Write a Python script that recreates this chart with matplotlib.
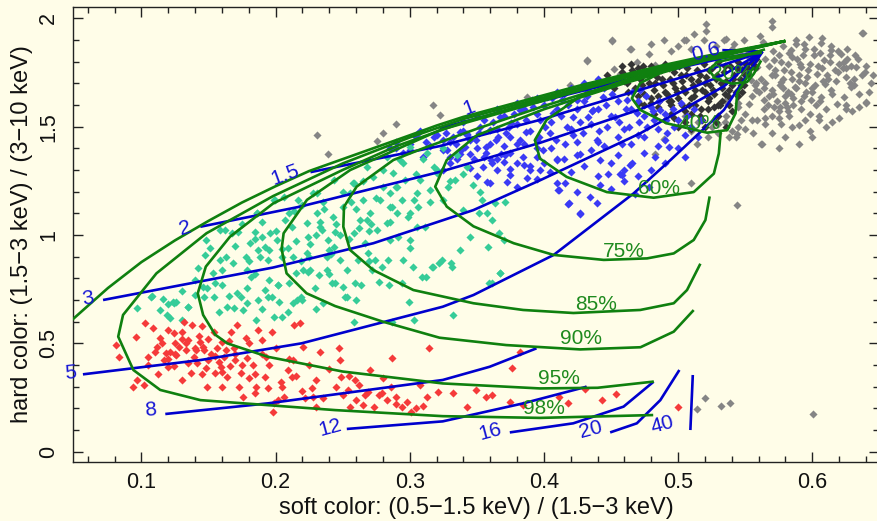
import matplotlib
matplotlib.use("Agg")
import matplotlib.pyplot as plt
from matplotlib.ticker import MultipleLocator

plt.rcParams['font.family'] = ['Liberation Sans', 'DejaVu Sans']

BG = "#FFFDE8"
LINE_BLUE = "#0000CD"
TEXT_BLUE = "#1515D5"
LINE_GREEN = "#0F800F"
TEXT_GREEN = "#1E8A1E"

# ---- scattered sources (soft color, hard color) ----
red_x = [0.081, 0.0835, 0.096, 0.103, 0.109, 0.0965, 0.094, 0.102, 0.105, 0.1115, 0.114, 0.1165, 0.120, 0.1215,
         0.124, 0.125, 0.128, 0.130, 0.1315, 0.1335, 0.135, 0.138, 0.139, 0.1415, 0.144, 0.1465, 0.148, 0.149,
         0.150, 0.154, 0.1565, 0.159, 0.160, 0.1615, 0.164, 0.1665, 0.169, 0.170, 0.1715, 0.173, 0.174, 0.1755,
         0.178, 0.179, 0.180, 0.183, 0.1855, 0.187, 0.190, 0.192, 0.193, 0.194, 0.197, 0.198, 0.199, 0.2015,
         0.204, 0.2065, 0.209, 0.212, 0.213, 0.214, 0.218, 0.2205, 0.222, 0.227, 0.228, 0.2305, 0.233, 0.247,
         0.248, 0.249, 0.254, 0.2555, 0.259, 0.262, 0.2655, 0.267, 0.269, 0.2705, 0.273, 0.277, 0.2795, 0.283,
         0.286, 0.287, 0.2895, 0.2945, 0.298, 0.301, 0.3045, 0.308, 0.313, 0.3145, 0.321, 0.332, 0.343, 0.3495,
         0.357, 0.361, 0.3745, 0.382, 0.376, 0.3845, 0.411, 0.418, 0.431, 0.443, 0.454, 0.500,
         0.118, 0.126, 0.133, 0.141, 0.152, 0.158, 0.166, 0.124, 0.137, 0.146, 0.155, 0.112, 0.143, 0.163]
red_y = [0.492, 0.435, 0.528, 0.592, 0.569, 0.331, 0.300, 0.308, 0.438, 0.482, 0.523, 0.423, 0.429, 0.462,
         0.546, 0.500, 0.482, 0.554, 0.600, 0.469, 0.515, 0.585, 0.438, 0.408, 0.508, 0.469, 0.385, 0.300,
         0.423, 0.554, 0.477, 0.392, 0.508, 0.438, 0.346, 0.554, 0.477, 0.423, 0.585, 0.300, 0.362, 0.254,
         0.523, 0.431, 0.338, 0.400, 0.300, 0.562, 0.515, 0.346, 0.438, 0.292, 0.554, 0.185, 0.223, 0.238,
         0.323, 0.254, 0.377, 0.346, 0.423, 0.585, 0.592, 0.485, 0.246, 0.292, 0.254, 0.208, 0.462, 0.477,
         0.423, 0.346, 0.285, 0.208, 0.331, 0.308, 0.215, 0.262, 0.277, 0.377, 0.208, 0.262, 0.269, 0.238,
         0.300, 0.431, 0.254, 0.208, 0.231, 0.185, 0.200, 0.308, 0.254, 0.477, 0.277, 0.269, 0.208, 0.285,
         0.254, 0.262, 0.231, 0.462, 0.385, 0.215, 0.254, 0.226, 0.288, 0.238, 0.265, 0.208,
         0.455, 0.445, 0.500, 0.470, 0.450, 0.415, 0.395, 0.395, 0.365, 0.485, 0.365, 0.360, 0.535, 0.470]
red_more = [(0.105, 0.40), (0.11, 0.46), (0.115, 0.50), (0.12, 0.39), (0.125, 0.45), (0.13, 0.52),
            (0.135, 0.41), (0.14, 0.48), (0.145, 0.36), (0.15, 0.52), (0.155, 0.44), (0.16, 0.37),
            (0.165, 0.51), (0.17, 0.45), (0.175, 0.40), (0.18, 0.50), (0.185, 0.36), (0.19, 0.45),
            (0.195, 0.40), (0.2, 0.48), (0.205, 0.30), (0.21, 0.43), (0.215, 0.35), (0.22, 0.28),
            (0.225, 0.40), (0.23, 0.33), (0.235, 0.25), (0.24, 0.38), (0.245, 0.30), (0.25, 0.26),
            (0.13, 0.33), (0.12, 0.56), (0.145, 0.58), (0.16, 0.30), (0.185, 0.27), (0.26, 0.24),
            (0.28, 0.34), (0.29, 0.22), (0.31, 0.21), (0.255, 0.35)]

teal_x = [0.0965, 0.108, 0.116, 0.114, 0.119, 0.1215, 0.124, 0.126, 0.130, 0.135, 0.140, 0.1465, 0.149, 0.154,
          0.158, 0.160, 0.164, 0.169, 0.1715, 0.1755, 0.179, 0.182, 0.1855, 0.187, 0.192, 0.194, 0.195, 0.199,
          0.2015, 0.2025, 0.209, 0.213, 0.2155, 0.219, 0.224, 0.232, 0.238, 0.244, 0.2535, 0.2585, 0.2635,
          0.272, 0.277, 0.2845, 0.287, 0.2945, 0.2995, 0.303, 0.312, 0.317,
          0.1075, 0.1237, 0.1349, 0.1423, 0.146, 0.1473, 0.1485, 0.151, 0.1535, 0.1585, 0.1622, 0.1634,
          0.1672, 0.1684, 0.1722, 0.1746, 0.1784, 0.1784, 0.1809, 0.1846, 0.1858, 0.1871, 0.1884, 0.1896,
          0.1921, 0.1946, 0.1958, 0.197,
          0.1995, 0.2007, 0.202, 0.207, 0.2095, 0.212, 0.2132, 0.2157, 0.217, 0.2207, 0.2231, 0.2244, 0.2257,
          0.2281, 0.2294, 0.2306, 0.2331, 0.2343, 0.2356, 0.2381, 0.2393, 0.2418, 0.2431, 0.2443, 0.2481,
          0.2505, 0.2518, 0.253, 0.2555, 0.258, 0.2593, 0.2617, 0.263, 0.2655, 0.2667, 0.2692, 0.2704, 0.2729,
          0.2742, 0.2754, 0.2779, 0.2791, 0.2804, 0.2828, 0.2841, 0.2853, 0.2866, 0.2878, 0.2903, 0.2915,
          0.294, 0.2953, 0.2965, 0.299, 0.3003, 0.3027, 0.3052, 0.3065, 0.3077, 0.309, 0.3115, 0.3152, 0.3164,
          0.3202, 0.3239, 0.3251, 0.3289, 0.3313, 0.3339, 0.3376, 0.34, 0.3425, 0.345,
          0.3475, 0.3525, 0.3537, 0.3575, 0.3612, 0.3513, 0.3662, 0.3587, 0.3699, 0.3675, 0.3612, 0.3712,
          0.3637, 0.331, 0.322, 0.367, 0.359, 0.332,
          0.1587, 0.1861, 0.1985, 0.206, 0.2309, 0.2433, 0.2582, 0.2682, 0.2831, 0.2931, 0.3005, 0.313, 0.318,
          0.2906, 0.303, 0.2856, 0.2682, 0.2582, 0.2333, 0.2235, 0.2433, 0.2856, 0.3055,
          0.178, 0.205, 0.226, 0.248, 0.262, 0.236, 0.214, 0.271, 0.256, 0.219, 0.241]
teal_y = [0.662, 0.718, 0.703, 0.654, 0.631, 0.615, 0.685, 0.692, 0.608, 0.669, 0.723, 0.715, 0.754, 0.715,
          0.646, 0.769, 0.669, 0.662, 0.731, 0.654, 0.685, 0.808, 0.608, 0.700, 0.746, 0.715, 0.792, 0.623,
          0.769, 0.692, 0.646, 0.685, 0.823, 0.715, 0.831, 0.815, 0.838, 0.777, 0.715, 0.600, 0.769,
          0.838, 0.785, 0.769, 0.600, 0.777, 0.692, 0.608, 0.808, 0.854,
          0.715, 0.692, 0.669, 0.846, 0.761, 0.908, 0.977, 0.939, 0.823, 0.885, 1.023, 0.900,
          1.011, 0.869, 1.015, 0.715, 0.838, 0.754, 0.962, 1.015, 1.100, 0.931, 0.900, 0.992,
          0.946, 0.885, 1.008, 0.715,
          1.162, 0.977, 0.769, 1.069, 0.939, 1.038, 0.900, 0.700, 1.162, 0.838, 1.054, 0.992, 0.838,
          1.192, 0.754, 1.100, 1.062, 1.023, 0.685, 0.900, 0.977, 0.777, 1.085, 1.015, 0.885,
          1.131, 0.715, 0.838, 1.192, 1.238, 0.777, 0.885, 1.069, 1.162, 0.962, 0.915, 1.100, 1.269,
          0.885, 1.023, 1.162, 0.854, 1.223, 1.054, 0.885, 1.192, 1.131, 1.285, 1.100, 0.992,
          1.162, 0.885, 1.254, 1.085, 0.977, 0.854, 1.192, 1.131, 1.254, 0.808, 1.038, 1.208, 0.854,
          1.285, 0.885, 1.162, 1.223, 0.854, 1.254, 0.931, 1.115, 1.315, 0.992,
          1.231, 1.200, 1.162, 1.100, 1.069, 1.100, 1.008, 0.946, 0.977, 0.823, 0.777, 1.154,
          1.146, 0.869, 0.869, 0.823, 0.780, 0.631,
          1.023, 1.100, 1.162, 1.177, 1.192, 1.254, 1.238, 1.315, 1.362, 1.346, 1.408, 1.377, 1.315,
          1.223, 1.162, 1.131, 1.069, 1.008, 1.038, 0.915, 0.946, 0.977, 1.038,
          0.900, 0.935, 0.960, 1.000, 1.030, 1.120, 1.110, 1.050, 1.150, 0.880, 0.910]
teal_more = [(0.17, 0.95), (0.175, 1.05), (0.18, 0.88), (0.185, 0.98), (0.19, 1.06), (0.195, 0.93),
             (0.20, 1.02), (0.205, 0.90), (0.21, 1.10), (0.215, 0.97), (0.22, 1.14), (0.225, 0.90),
             (0.23, 1.00), (0.235, 1.15), (0.24, 0.93), (0.245, 1.05), (0.25, 1.20), (0.255, 0.98),
             (0.26, 1.12), (0.265, 1.25), (0.27, 1.02), (0.275, 1.17), (0.28, 1.30), (0.285, 1.06),
             (0.29, 1.22), (0.295, 1.33), (0.30, 1.10), (0.305, 1.28), (0.31, 1.35), (0.315, 1.15),
             (0.32, 1.30), (0.325, 1.40), (0.33, 1.25), (0.335, 1.37), (0.34, 1.28), (0.16, 0.84),
             (0.155, 0.78), (0.165, 0.72), (0.14, 0.79), (0.13, 0.74), (0.12, 0.68), (0.185, 0.82),
             (0.21, 0.78), (0.24, 0.82), (0.27, 0.88), (0.30, 0.94), (0.25, 0.76), (0.22, 0.70),
             (0.19, 0.66), (0.26, 0.70), (0.205, 0.62), (0.23, 0.66)]

blue_x = [0.3247, 0.3297, 0.3347, 0.3372, 0.3409, 0.3446, 0.3496, 0.3521, 0.3546, 0.3571, 0.3596, 0.3608,
          0.3646, 0.3671, 0.3683, 0.3721, 0.3746, 0.3758, 0.3796, 0.3820, 0.3845, 0.3870, 0.3908, 0.3945,
          0.3970, 0.3995, 0.4020, 0.4045, 0.4070, 0.4095, 0.4107, 0.4132, 0.4157, 0.4170, 0.4182, 0.4219,
          0.4244, 0.4269, 0.4269, 0.4294, 0.4319, 0.4332, 0.4369, 0.4394, 0.4419, 0.4444, 0.4469, 0.4481,
          0.4519, 0.4531, 0.4569, 0.4581, 0.4618, 0.4631, 0.4656, 0.4693, 0.4718, 0.4743, 0.4768, 0.4818,
          0.4830, 0.4868, 0.4918, 0.4930, 0.4968,
          0.3052, 0.3251, 0.3276, 0.3376, 0.3425, 0.308,
          0.3612, 0.3699, 0.3749, 0.3724, 0.3849, 0.3873, 0.3973, 0.4047, 0.4109, 0.4159, 0.4184, 0.4271,
          0.4346, 0.4396, 0.4421, 0.4582, 0.4645, 0.390, 0.3575, 0.478, 0.468,
          0.285, 0.290, 0.295, 0.300, 0.305, 0.310, 0.315, 0.320, 0.325, 0.330, 0.335, 0.340, 0.345, 0.350,
          0.355, 0.360, 0.365, 0.370, 0.375, 0.380, 0.385, 0.390, 0.395, 0.400, 0.405, 0.410, 0.415, 0.420,
          0.425, 0.430, 0.435, 0.440, 0.445, 0.450, 0.455, 0.460, 0.465, 0.470, 0.475, 0.480, 0.485, 0.490,
          0.500, 0.505, 0.510, 0.375, 0.385, 0.395, 0.405, 0.415, 0.425, 0.435, 0.445, 0.455, 0.465, 0.475,
          0.390, 0.400, 0.420, 0.430, 0.440, 0.450, 0.460, 0.365, 0.355, 0.345, 0.330, 0.370]
blue_y = [1.299, 1.360, 1.422, 1.477, 1.407, 1.376, 1.438, 1.500, 1.314, 1.407, 1.484, 1.345,
          1.438, 1.546, 1.376, 1.469, 1.306, 1.515, 1.422, 1.577, 1.360, 1.477, 1.624, 1.438,
          1.531, 1.391, 1.639, 1.469, 1.562, 1.345, 1.206, 1.624, 1.422, 1.500, 1.144, 1.546,
          1.624, 1.097, 1.376, 1.469, 1.670, 1.546, 1.577, 1.438, 1.345, 1.639, 1.500, 1.283,
          1.701, 1.546, 1.283, 1.422, 1.624, 1.500, 1.330, 1.562, 1.670, 1.453, 1.500, 1.531,
          1.360, 1.577, 1.469, 1.407, 1.500,
          1.467, 1.437, 1.391, 1.375, 1.467, 1.480,
          1.331, 1.338, 1.277, 1.246, 1.323, 1.262, 1.300, 1.292, 1.208, 1.238, 1.146, 1.100,
          1.177, 1.146, 1.231, 1.277, 1.323, 1.320, 1.246, 1.220, 1.190,
          1.400, 1.430, 1.380, 1.420, 1.450, 1.360, 1.410, 1.460, 1.390, 1.430, 1.350, 1.480, 1.440, 1.400,
          1.530, 1.420, 1.490, 1.550, 1.450, 1.510, 1.580, 1.480, 1.560, 1.600, 1.520, 1.580, 1.650, 1.490,
          1.580, 1.620, 1.510, 1.580, 1.680, 1.550, 1.620, 1.490, 1.580, 1.620, 1.550, 1.590, 1.490, 1.560,
          1.530, 1.460, 1.500, 1.380, 1.420, 1.360, 1.400, 1.350, 1.430, 1.390, 1.410, 1.370, 1.420, 1.380,
          1.300, 1.330, 1.290, 1.320, 1.270, 1.330, 1.300, 1.300, 1.360, 1.310, 1.330, 1.410]
blue_more = [(0.332, 1.45), (0.338, 1.39), (0.343, 1.46), (0.348, 1.35), (0.352, 1.47), (0.357, 1.38),
             (0.362, 1.52), (0.366, 1.45), (0.371, 1.37), (0.374, 1.50), (0.378, 1.56), (0.382, 1.44),
             (0.387, 1.53), (0.392, 1.59), (0.396, 1.45), (0.401, 1.50), (0.406, 1.63), (0.409, 1.44),
             (0.413, 1.55), (0.418, 1.60), (0.422, 1.46), (0.427, 1.52), (0.432, 1.64), (0.436, 1.57),
             (0.441, 1.48), (0.446, 1.60), (0.451, 1.65), (0.456, 1.52), (0.461, 1.58), (0.466, 1.66),
             (0.471, 1.52), (0.476, 1.64), (0.481, 1.57), (0.486, 1.62), (0.491, 1.53), (0.496, 1.58),
             (0.502, 1.61), (0.507, 1.55), (0.512, 1.58), (0.517, 1.53), (0.43, 1.70), (0.44, 1.72),
             (0.42, 1.68), (0.41, 1.66), (0.395, 1.63), (0.38, 1.61), (0.365, 1.58), (0.35, 1.55),
             (0.34, 1.52), (0.327, 1.47), (0.318, 1.45), (0.312, 1.43), (0.30, 1.39), (0.29, 1.40),
             (0.35, 1.27), (0.36, 1.24), (0.38, 1.22), (0.395, 1.26), (0.41, 1.24), (0.425, 1.20),
             (0.45, 1.21), (0.46, 1.25), (0.47, 1.27), (0.48, 1.30), (0.49, 1.33), (0.50, 1.40),
             (0.505, 1.36), (0.515, 1.45), (0.49, 1.44), (0.485, 1.41), (0.47, 1.46), (0.455, 1.45),
             (0.44, 1.43), (0.425, 1.37), (0.41, 1.35), (0.395, 1.40), (0.38, 1.33), (0.365, 1.35)]

dark_x = [0.455, 0.458, 0.462, 0.465, 0.468, 0.470, 0.472, 0.475, 0.476, 0.478, 0.480, 0.482, 0.484, 0.486,
          0.487, 0.489, 0.490, 0.492, 0.494, 0.495, 0.497, 0.498, 0.500, 0.501, 0.503, 0.505, 0.506, 0.508,
          0.509, 0.511, 0.512, 0.514, 0.515, 0.517, 0.518, 0.519, 0.521, 0.522, 0.524, 0.525, 0.527, 0.528,
          0.530, 0.531, 0.533, 0.534, 0.536, 0.537, 0.539, 0.540, 0.542, 0.543, 0.545, 0.546, 0.548, 0.549,
          0.551, 0.553, 0.555, 0.557, 0.485, 0.495, 0.505, 0.516, 0.527, 0.538, 0.463, 0.471, 0.452, 0.447,
          0.480, 0.510]
dark_y = [1.72, 1.75, 1.70, 1.74, 1.68, 1.77, 1.72, 1.65, 1.75, 1.70, 1.78, 1.67, 1.73, 1.62,
          1.76, 1.69, 1.79, 1.65, 1.72, 1.60, 1.75, 1.68, 1.63, 1.78, 1.71, 1.66, 1.74, 1.60,
          1.80, 1.69, 1.64, 1.76, 1.71, 1.58, 1.67, 1.79, 1.73, 1.62, 1.69, 1.77, 1.65, 1.72,
          1.80, 1.60, 1.68, 1.75, 1.71, 1.64, 1.78, 1.69, 1.74, 1.66, 1.80, 1.72, 1.76, 1.69,
          1.79, 1.74, 1.81, 1.77, 1.59, 1.56, 1.57, 1.55, 1.59, 1.60, 1.66, 1.61, 1.68, 1.74,
          1.63, 1.56]
dark_more = [(0.46, 1.71), (0.466, 1.76), (0.473, 1.69), (0.479, 1.74), (0.483, 1.70), (0.488, 1.72),
             (0.493, 1.77), (0.496, 1.70), (0.499, 1.66), (0.502, 1.74), (0.504, 1.68), (0.507, 1.77),
             (0.51, 1.72), (0.513, 1.67), (0.516, 1.74), (0.52, 1.70), (0.523, 1.76), (0.526, 1.67),
             (0.529, 1.74), (0.532, 1.70), (0.535, 1.78), (0.538, 1.67), (0.541, 1.72), (0.544, 1.77),
             (0.547, 1.69), (0.55, 1.74), (0.552, 1.77), (0.556, 1.79), (0.558, 1.81), (0.493, 1.62),
             (0.503, 1.60), (0.513, 1.60), (0.523, 1.63), (0.533, 1.62), (0.545, 1.64), (0.49, 1.66),
             (0.52, 1.66), (0.535, 1.65), (0.548, 1.66), (0.474, 1.78), (0.465, 1.79), (0.458, 1.78),
             (0.505, 1.52), (0.518, 1.53), (0.53, 1.55), (0.54, 1.57), (0.497, 1.54),
             (0.475, 1.60), (0.482, 1.56), (0.49, 1.53), (0.50, 1.50), (0.51, 1.49), (0.52, 1.50),
             (0.528, 1.52), (0.536, 1.50), (0.485, 1.64), (0.495, 1.62), (0.51, 1.63), (0.522, 1.58),
             (0.53, 1.60), (0.47, 1.64), (0.48, 1.61)]

grey_x = [0.5205, 0.5354, 0.570, 0.561, 0.5975, 0.6063, 0.6373, 0.5839, 0.6137, 0.6212, 0.6261, 0.6324,
          0.6373, 0.6037, 0.6099, 0.6286, 0.6398, 0.6187, 0.6298, 0.6050, 0.5901, 0.5764, 0.5714, 0.5590,
          0.5466, 0.5440, 0.5378, 0.5627, 0.5839, 0.5541, 0.559, 0.5714, 0.5789, 0.5913, 0.5764, 0.5640,
          0.5951, 0.5988, 0.5813, 0.5528, 0.5341, 0.5416, 0.5117, 0.5042, 0.5490, 0.5515, 0.6087, 0.5871,
          0.6063, 0.6236,
          0.4507, 0.4645, 0.4781, 0.4898, 0.4321, 0.452, 0.457, 0.4694, 0.4831, 0.4197, 0.3873, 0.4893,
          0.4831, 0.4324, 0.4511, 0.4647, 0.5207, 0.570, 0.6376, 0.640, 0.5622, 0.5443, 0.5095, 0.5145,
          0.543, 0.5057,
          0.2306, 0.2388, 0.2759, 0.2804, 0.2896, 0.3172, 0.3227,
          0.5142, 0.5204, 0.5317, 0.5391, 0.6007,
          0.565, 0.572, 0.578, 0.585, 0.590, 0.595, 0.600, 0.582, 0.575, 0.568, 0.560, 0.555, 0.567, 0.575,
          0.583, 0.592, 0.598, 0.603, 0.610, 0.615, 0.612, 0.617, 0.620, 0.625, 0.631, 0.598, 0.593, 0.588,
          0.578, 0.563, 0.553, 0.547, 0.540, 0.528, 0.519, 0.500, 0.510, 0.495, 0.480, 0.550, 0.545, 0.536,
          0.530, 0.550, 0.570, 0.580, 0.598, 0.610, 0.620, 0.635, 0.644, 0.586, 0.571, 0.557, 0.606, 0.614,
          0.626, 0.632, 0.640, 0.580, 0.565, 0.556, 0.522, 0.510, 0.600, 0.590, 0.575, 0.625]
grey_y = [1.943, 1.905, 1.959, 1.920, 1.913, 1.886, 1.932, 1.852, 1.852, 1.837, 1.814, 1.775,
          1.736, 1.744, 1.698, 1.683, 1.614, 1.606, 1.572, 1.529, 1.506, 1.514, 1.591, 1.529,
          1.529, 1.467, 1.452, 1.421, 1.652, 1.714, 1.775, 1.806, 1.760, 1.775, 1.706, 1.622,
          1.660, 1.622, 1.591, 1.606, 1.899, 1.883, 1.929, 1.899, 1.899, 1.852, 1.806, 1.683,
          1.637, 1.637,
          1.899, 1.860, 1.837, 1.899, 1.806, 1.767, 1.744, 1.798, 1.783, 1.691, 1.637, 1.444,
          1.375, 1.803, 1.897, 1.857, 1.974, 1.989, 1.934, 1.611, 1.418, 1.138, 1.241, 1.420,
          1.454, 1.900,
          1.463, 1.372, 1.434, 1.471, 1.514, 1.599, 1.552,
          0.197, 0.249, 0.211, 0.226, 0.172,
          1.70, 1.74, 1.68, 1.72, 1.74, 1.70, 1.68, 1.79, 1.83, 1.78, 1.66, 1.64, 1.60, 1.57,
          1.55, 1.58, 1.56, 1.60, 1.58, 1.65, 1.72, 1.76, 1.79, 1.73, 1.69, 1.79, 1.83, 1.88,
          1.87, 1.89, 1.80, 1.83, 1.86, 1.87, 1.90, 1.87, 1.86, 1.85, 1.88, 1.56, 1.59, 1.55,
          1.51, 1.49, 1.47, 1.45, 1.48, 1.50, 1.54, 1.65, 1.70, 1.63, 1.65, 1.69, 1.84, 1.87,
          1.86, 1.83, 1.78, 1.61, 1.54, 1.47, 1.45, 1.48, 1.45, 1.42, 1.40, 1.60]
grey_more = [(0.588, 1.90), (0.594, 1.88), (0.601, 1.86), (0.607, 1.91), (0.613, 1.83), (0.619, 1.85),
             (0.624, 1.80), (0.629, 1.78), (0.634, 1.81), (0.639, 1.75), (0.585, 1.82), (0.591, 1.79),
             (0.597, 1.76), (0.604, 1.78), (0.611, 1.74), (0.618, 1.71), (0.623, 1.77), (0.628, 1.70),
             (0.572, 1.76), (0.578, 1.72), (0.584, 1.75), (0.590, 1.71), (0.596, 1.73), (0.602, 1.69),
             (0.608, 1.71), (0.614, 1.67), (0.570, 1.67), (0.576, 1.69), (0.582, 1.66), (0.588, 1.68),
             (0.594, 1.64), (0.600, 1.66), (0.606, 1.62), (0.562, 1.72), (0.568, 1.64), (0.574, 1.62),
             (0.580, 1.64), (0.586, 1.60), (0.592, 1.62), (0.558, 1.67), (0.564, 1.58), (0.570, 1.55),
             (0.576, 1.59), (0.582, 1.57), (0.552, 1.75), (0.558, 1.70), (0.564, 1.68), (0.570, 1.74),
             (0.547, 1.78), (0.553, 1.82), (0.559, 1.84), (0.565, 1.81), (0.571, 1.85), (0.577, 1.80),
             (0.583, 1.84), (0.589, 1.81), (0.595, 1.86), (0.601, 1.83), (0.607, 1.77), (0.613, 1.80),
             (0.619, 1.75), (0.625, 1.77), (0.631, 1.72), (0.545, 1.50), (0.540, 1.48), (0.535, 1.52),
             (0.530, 1.47), (0.525, 1.50), (0.515, 1.52), (0.505, 1.55), (0.535, 1.62), (0.545, 1.61),
             (0.555, 1.53), (0.565, 1.51), (0.575, 1.54), (0.585, 1.50), (0.595, 1.53), (0.605, 1.55),
             (0.615, 1.52), (0.625, 1.58), (0.635, 1.59), (0.642, 1.66), (0.645, 1.74)]

# ---- constant covering-fraction tracks (green) ----
g100_x = [0.579, 0.55, 0.52, 0.49, 0.46, 0.43, 0.40, 0.37, 0.34, 0.32, 0.30, 0.275, 0.25, 0.225, 0.20,
          0.175, 0.15, 0.125, 0.10, 0.075, 0.045]
g100_y = [1.894, 1.86, 1.825, 1.785, 1.74, 1.695, 1.645, 1.595, 1.545, 1.505, 1.46, 1.405, 1.35, 1.295,
          1.225, 1.15, 1.065, 0.975, 0.875, 0.755, 0.59]
g98_x = [0.579, 0.52, 0.46, 0.40, 0.34, 0.30, 0.25, 0.1983, 0.1485, 0.1112, 0.0863, 0.0827, 0.094, 0.114,
         0.144, 0.194, 0.2444, 0.3246, 0.397, 0.4805]
g98_y = [1.894, 1.82, 1.735, 1.635, 1.535, 1.45, 1.33, 1.18, 1.008, 0.823, 0.631, 0.531, 0.377, 0.285,
         0.238, 0.215, 0.192, 0.164, 0.156, 0.169]
g95_x = [0.579, 0.52, 0.46, 0.40, 0.34, 0.29, 0.25, 0.1983, 0.166, 0.148, 0.142, 0.146, 0.155, 0.164,
         0.1942, 0.25, 0.3246, 0.397, 0.44, 0.481]
g95_y = [1.894, 1.818, 1.73, 1.628, 1.52, 1.41, 1.30, 1.146, 0.992, 0.854, 0.731, 0.631, 0.54, 0.50,
         0.438, 0.37, 0.315, 0.292, 0.295, 0.323]
g90_x = [0.579, 0.52, 0.46, 0.40, 0.3229, 0.2557, 0.2234, 0.206, 0.2045, 0.2082, 0.2231, 0.2444, 0.28,
         0.3222, 0.372, 0.427, 0.472, 0.4968, 0.511]
g90_y = [1.894, 1.815, 1.725, 1.62, 1.485, 1.30, 1.162, 1.008, 0.935, 0.823, 0.731, 0.672, 0.60,
         0.526, 0.492, 0.472, 0.482, 0.554, 0.649]
g85_x = [0.579, 0.52, 0.46, 0.40, 0.35, 0.31, 0.2878, 0.2604, 0.251, 0.2505, 0.2555, 0.2729, 0.3027,
         0.3475, 0.3845, 0.422, 0.4718, 0.4968, 0.5067, 0.5162]
g85_y = [1.894, 1.81, 1.71, 1.595, 1.49, 1.40, 1.346, 1.223, 1.13, 1.038, 0.931, 0.838, 0.746,
         0.685, 0.654, 0.64, 0.654, 0.685, 0.746, 0.862]
g75_x = [0.579, 0.52, 0.46, 0.40, 0.35, 0.3276, 0.319, 0.3276, 0.3475, 0.3775, 0.4073, 0.4446, 0.4769,
         0.4968, 0.5117, 0.5204, 0.5234]
g75_y = [1.894, 1.805, 1.70, 1.58, 1.46, 1.346, 1.223, 1.131, 1.04, 0.962, 0.908, 0.885, 0.892,
         0.915, 0.977, 1.069, 1.172]
g60_x = [0.579, 0.54, 0.5092, 0.4618, 0.4269, 0.402, 0.3933, 0.397, 0.417, 0.4469, 0.4818, 0.5117,
         0.5267, 0.5304, 0.5317]
g60_y = [1.894, 1.84, 1.794, 1.717, 1.639, 1.531, 1.438, 1.353, 1.268, 1.198, 1.172, 1.198,
         1.283, 1.376, 1.469]
g40_x = [0.5616, 0.5217, 0.4918, 0.4718, 0.4656, 0.4718, 0.4918, 0.5217, 0.5367, 0.5429, 0.5441, 0.5541,
         0.556]
g40_y = [1.840, 1.809, 1.763, 1.701, 1.631, 1.577, 1.515, 1.472, 1.484, 1.562, 1.655, 1.755, 1.77]
g20_x = [0.5639, 0.5466, 0.5291, 0.523, 0.528, 0.5403, 0.5515, 0.5565, 0.5615]
g20_y = [1.855, 1.821, 1.798, 1.760, 1.721, 1.698, 1.706, 1.744, 1.80]

green_tracks = [(g100_x, g100_y), (g98_x, g98_y), (g95_x, g95_y), (g90_x, g90_y), (g85_x, g85_y),
                (g75_x, g75_y), (g60_x, g60_y), (g40_x, g40_y), (g20_x, g20_y)]
green_labels = ["20%", "40%", "60%", "75%", "85%", "90%", "95%", "98%"]
green_lab_x = [0.540, 0.5157, 0.4858, 0.4595, 0.4386, 0.4274, 0.4112, 0.400]
green_lab_y = [1.744, 1.515, 1.215, 0.923, 0.677, 0.523, 0.339, 0.200]

# ---- constant column-density tracks (blue), N_H in 1e22 cm^-2 ----
b06_x = [0.533, 0.548, 0.563]
b06_y = [1.853, 1.850, 1.846]
b1_x = [0.3222, 0.397, 0.4718, 0.5342, 0.563]
b1_y = [1.492, 1.616, 1.732, 1.817, 1.846]
b15_x = [0.226, 0.3222, 0.397, 0.4718, 0.5342, 0.563]
b15_y = [1.290, 1.410, 1.531, 1.670, 1.786, 1.846]
b2_x = [0.1439, 0.2184, 0.3229, 0.397, 0.4718, 0.5342, 0.563]
b2_y = [1.038, 1.131, 1.292, 1.425, 1.58, 1.74, 1.846]
b3_x = [0.0714, 0.1983, 0.2729, 0.3222, 0.3475, 0.397, 0.4718, 0.5342, 0.563]
b3_y = [0.700, 0.850, 0.962, 1.063, 1.115, 1.252, 1.469, 1.686, 1.846]
b5_x = [0.0564, 0.1441, 0.2193, 0.3246, 0.3475, 0.4073, 0.4669, 0.4944, 0.5342, 0.563]
b5_y = [0.357, 0.423, 0.500, 0.669, 0.723, 0.908, 1.192, 1.346, 1.577, 1.846]
b8_x = [0.1178, 0.1942, 0.3246, 0.3596, 0.3945]
b8_y = [0.174, 0.223, 0.331, 0.392, 0.477]
b12_x = [0.2531, 0.3246, 0.3845, 0.4319]
b12_y = [0.105, 0.140, 0.223, 0.300]
b16_x = [0.3746, 0.4219, 0.4594, 0.4818]
b16_y = [0.089, 0.131, 0.208, 0.323]
b20_x = [0.4494, 0.4693, 0.4868, 0.501]
b20_y = [0.089, 0.131, 0.238, 0.377]
b40_x = [0.5092, 0.511]
b40_y = [0.100, 0.354]

blue_tracks = [(b06_x, b06_y), (b1_x, b1_y), (b15_x, b15_y), (b2_x, b2_y), (b3_x, b3_y), (b5_x, b5_y),
               (b8_x, b8_y), (b12_x, b12_y), (b16_x, b16_y), (b20_x, b20_y), (b40_x, b40_y)]
nh_labels = ["0.6", "1", "1.5", "2", "3", "5", "8", "12", "16", "20", "40"]
nh_lab_x = [0.5206, 0.3439, 0.2072, 0.1326, 0.0602, 0.0468, 0.1066, 0.2409, 0.3603, 0.4349, 0.4886]
nh_lab_y = [1.844, 1.586, 1.277, 1.032, 0.708, 0.362, 0.192, 0.109, 0.091, 0.100, 0.123]
nh_lab_rot = [15, 20, 20, 15, 10, 5, 5, 15, 15, 15, 15]


def merged(xs, ys, extra):
    return list(xs) + [p[0] for p in extra], list(ys) + [p[1] for p in extra]


def main():
    fig = plt.figure(figsize=(8.78, 5.21), dpi=100, facecolor=BG)
    ax = fig.add_axes([73 / 878, 1 - 462 / 521, 806 / 878, 455 / 521])
    ax.set_facecolor(BG)

    ms = 17
    groups = [(grey_x, grey_y, grey_more, "#858585"),
              (dark_x, dark_y, dark_more, "#333333"),
              (blue_x, blue_y, blue_more, "#3a3af5"),
              (teal_x, teal_y, teal_more, "#36cc98"),
              (red_x, red_y, red_more, "#f53a3a")]
    for xs, ys, extra, col in groups:
        px, py = merged(xs, ys, extra)
        ax.scatter(px, py, s=ms, marker="D", color=col, lw=0, zorder=2)

    for bx, by in blue_tracks:
        ax.plot(bx, by, color=LINE_BLUE, lw=1.9, zorder=3, solid_capstyle="butt")
    for gx, gy in green_tracks:
        ax.plot(gx, gy, color=LINE_GREEN, lw=1.9, zorder=4)

    for t, x, y, r in zip(nh_labels, nh_lab_x, nh_lab_y, nh_lab_rot):
        ax.text(x, y, t, color=TEXT_BLUE, fontsize=15, rotation=r, ha="center", va="center",
                zorder=5, clip_on=False)
    for t, x, y in zip(green_labels, green_lab_x, green_lab_y):
        ax.text(x, y, t, color=TEXT_GREEN, fontsize=15, ha="center", va="center", zorder=5)

    ax.set_xlim(0.049, 0.6498)
    ax.set_ylim(-0.0475, 2.052)
    ax.xaxis.set_minor_locator(MultipleLocator(0.02))
    ax.yaxis.set_minor_locator(MultipleLocator(0.1))
    ax.set_xticks([0.1, 0.2, 0.3, 0.4, 0.5, 0.6])
    ax.set_xticklabels(["0.1", "0.2", "0.3", "0.4", "0.5", "0.6"])
    ax.set_yticks([0, 0.5, 1, 1.5, 2])
    ax.set_yticklabels(["0", "0.5", "1", "1.5", "2"], rotation=90, va="center")
    ax.tick_params(which="both", direction="in", top=True, right=True, color="#222222", width=1.0,
                   labelsize=15.5, labelcolor="#111111")
    ax.tick_params(which="major", length=7)
    ax.tick_params(which="minor", length=4)
    ax.tick_params(axis="x", pad=7)
    ax.tick_params(axis="y", pad=10)
    for s in ax.spines.values():
        s.set_color("#222222")
        s.set_linewidth(1.0)

    ax.set_xlabel("soft color: (0.5\u22121.5 keV) / (1.5\u22123 keV)", fontsize=17, color="#111111",
                  labelpad=3)
    ax.set_ylabel("hard color: (1.5\u22123 keV) / (3\u221210 keV)", fontsize=17, color="#111111",
                  labelpad=4)

    fig.savefig("out.png", dpi=100, facecolor=BG)


if __name__ == "__main__":
    main()
